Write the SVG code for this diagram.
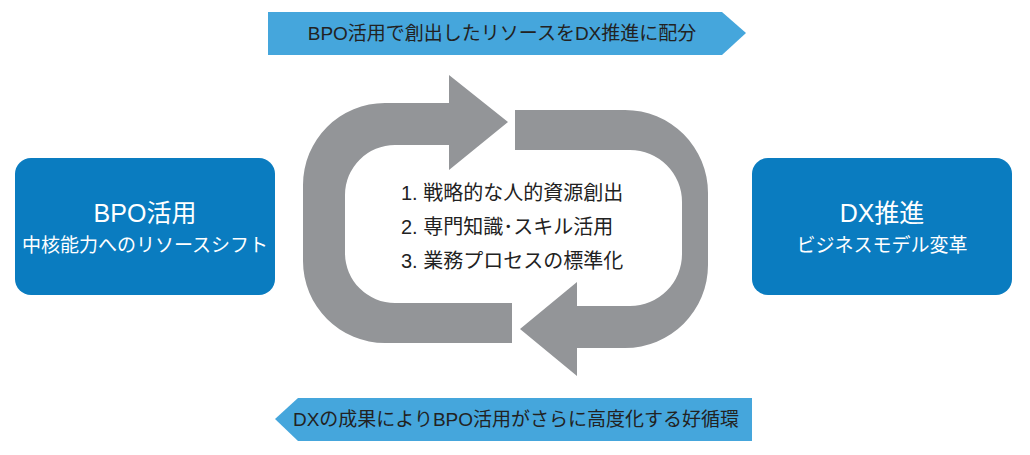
<svg xmlns="http://www.w3.org/2000/svg" width="1030" height="455" viewBox="0 0 1030 455">
<style>
text{font-family:"Liberation Sans","Noto Sans CJK JP",sans-serif}
.box{fill:#0a7cc0}
.ban{fill:#45a6dc}
.cyc{fill:#939598}
.t1{fill:#fff;font-size:25px;text-anchor:middle}
.t2{fill:#fff;font-size:19px;text-anchor:middle}
.bt{fill:#222;font-size:19px;text-anchor:middle}
.ct{fill:#222;font-size:20px}
</style>
<rect width="1030" height="455" fill="#fff"/>
<g id="banner-top"><path class="ban" d="M268,12 H722 L746,33 L722,55 H268 Z"/><text class="bt" x="502" y="40">BPO活用で創出したリソースをDX推進に配分</text></g>
<g id="banner-bottom"><path class="ban" d="M752,398 H298 L275,419 L298,441 H752 Z"/><text class="bt" x="516" y="426">DXの成果によりBPO活用がさらに高度化する好循環</text></g>
<g id="bpo"><rect class="box" x="15" y="158" width="260" height="137" rx="16"/><text class="t1" x="145" y="222">BPO活用</text><text class="t2" x="145" y="252">中核能力へのリソースシフト</text></g>
<g id="dx"><rect class="box" x="752" y="158" width="260" height="137" rx="16"/><text class="t1" x="882" y="222">DX推進</text><text class="t2" x="882" y="252">ビジネスモデル変革</text></g>
<g id="connectors">
<path class="cyc" d="M449,103 V75 L508,122 L449,170 V145 H395 A50,50 0 0 0 345,195 V253 A50,50 0 0 0 395,303 H512 V343 H385 A82,82 0 0 1 303,261 V185 A82,82 0 0 1 385,103 Z"/>
<path class="cyc" d="M515,110 H625 A83,83 0 0 1 708,193 V265 A83,83 0 0 1 625,348 H577 V376 L520,329 L577,282 V306 H630 A52,52 0 0 0 682,254 V202 A52,52 0 0 0 630,150 H515 Z"/>
</g>
<g id="list">
<text class="ct" x="401" y="200">1. 戦略的な人的資源創出</text>
<text class="ct" x="401" y="234">2. 専門知識･スキル活用</text>
<text class="ct" x="401" y="268">3. 業務プロセスの標準化</text>
</g>
</svg>
